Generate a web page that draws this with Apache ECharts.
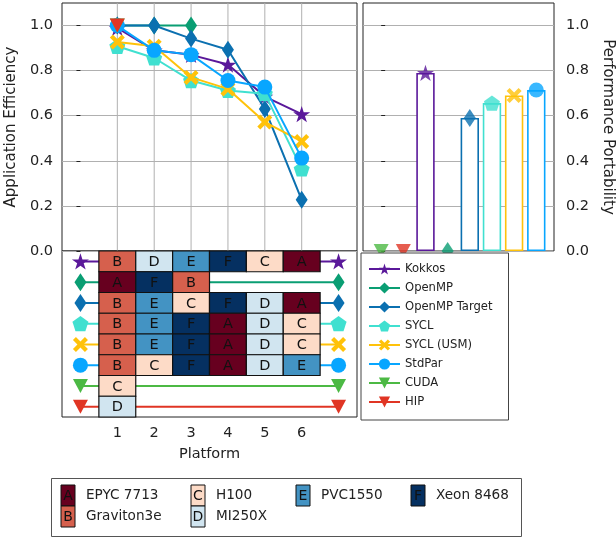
<!DOCTYPE html>
<html><head><meta charset="utf-8">
<script src="https://cdn.jsdelivr.net/npm/echarts@6/dist/echarts.min.js"></script>
<style>html,body{margin:0;padding:0;background:#fff}#c{width:616px;height:539px}</style>
</head><body><div id="c"></div>
<script>
// ---------- data ----------
var implNames = ['Kokkos','OpenMP','OpenMP Target','SYCL','SYCL (USM)','StdPar','CUDA','HIP'];
var implColors = ['#5a189a','#0a9e73','#0b70b0','#40e0d0','#ffc20a','#08a6ff','#4cb944','#e03524'];
var ranks = [1,2,3,4,5,6];
// application efficiency, sorted by rank (platform position 1..n)
var effKokkos = [0.99,0.89,0.87,0.827,0.685,0.607];
var effOpenMP = [1.0,1.0,1.0];
var effOmpTarget = [1.0,1.0,0.942,0.893,0.63,0.227];
var effSYCL = [0.908,0.856,0.756,0.712,0.698,0.364];
var effSYCLUSM = [0.927,0.908,0.77,0.719,0.572,0.486];
var effStdPar = [1.0,0.89,0.871,0.756,0.727,0.412];
var effCUDA = [1.0];
var effHIP = [1.0];
// platform at each rank
var tabKokkos = ['B','D','E','F','C','A'];
var tabOpenMP = ['A','F','B'];
var tabOmpTarget = ['B','E','C','F','D','A'];
var tabSYCL = ['B','E','F','A','D','C'];
var tabSYCLUSM = ['B','E','F','A','D','C'];
var tabStdPar = ['B','C','F','A','D','E'];
var tabCUDA = ['C'];
var tabHIP = ['D'];
// performance portability
var ppCategories = ['CUDA','HIP','Kokkos','OpenMP','OpenMP Target','SYCL','SYCL (USM)','StdPar'];
var ppValues = [0,0,0.79,0,0.59,0.656,0.69,0.714];
// platforms
var platLetters = ['A','B','C','D','E','F'];
var platNames = ['EPYC 7713','Graviton3e','H100','MI250X','PVC1550','Xeon 8468'];
var platColors = ['#67001f','#d6604d','#fddbc7','#d1e5f0','#4393c3','#053061'];
var yTicks = [0,0.2,0.4,0.6,0.8,1.0];

// ---------- helpers ----------
var effs = [effKokkos,effOpenMP,effOmpTarget,effSYCL,effSYCLUSM,effStdPar,effCUDA,effHIP];
var tabs = [tabKokkos,tabOpenMP,tabOmpTarget,tabSYCL,tabSYCLUSM,tabStdPar,tabCUDA,tabHIP];
var SYM = {
  star:'path://M0,-10L2.245,-3.09L9.51,-3.09L3.633,1.18L5.878,8.09L0,3.82L-5.878,8.09L-3.633,1.18L-9.51,-3.09L-2.245,-3.09Z',
  dia:'path://M0,-10L6,0L0,10L-6,0Z',
  pent:'path://M0,-10L9.51,-3.09L5.878,8.09L-5.878,8.09L-9.51,-3.09Z',
  x:'path://M-10,-6L-6,-10L0,-4L6,-10L10,-6L4,0L10,6L6,10L0,4L-6,10L-10,6L-4,0Z',
  circ:'circle',
  tri:'path://M-10,-10L10,-10L0,10Z'
};
var implSym = [SYM.star,SYM.dia,SYM.dia,SYM.pent,SYM.x,SYM.circ,SYM.tri,SYM.tri];
var implSize = [17,[12,18],[12,18],16,15,15,[15,14],[15,14]];
var implKeep = [true,false,false,true,true,false,false,false];
var FONT = 'DejaVu Sans';
var series = [];

// vertical grid lines in upper-left panel
series.push({type:'custom', xAxisIndex:0, yAxisIndex:0, z:1, silent:true,
  data: ranks.map(function(r){return [r];}),
  renderItem:function(p,api){
    var a=api.coord([api.value(0),0]), b=api.coord([api.value(0),1.1]);
    return {type:'line', shape:{x1:a[0],y1:a[1],x2:b[0],y2:b[1]}, style:{stroke:'#b0b0b0',lineWidth:1}};
  }});

// efficiency lines
implNames.forEach(function(n,i){
  series.push({type:'line', name:n, xAxisIndex:0, yAxisIndex:0, z:3+i*0.01,
    data: effs[i].map(function(v,k){return [ranks[k],v];}),
    symbol: implSym[i], symbolSize: implSize[i], symbolKeepAspect:implKeep[i], clip:false,
    color: implColors[i], lineStyle:{width:2,color:implColors[i]},
    itemStyle:{color:implColors[i]}, emphasis:{disabled:true}, animation:false});
});

// table row lines
implNames.forEach(function(n,i){
  series.push({type:'line', name:'row '+n, xAxisIndex:1, yAxisIndex:1, z:2,
    data:[[0,i+0.5],[7,i+0.5]],
    symbol: implSym[i], symbolSize: implSize[i], symbolKeepAspect:implKeep[i], clip:false,
    lineStyle:{width:2,color:implColors[i]}, itemStyle:{color:implColors[i]},
    emphasis:{disabled:true}, animation:false});
});

// table cells
var cellData = [];
tabs.forEach(function(t,i){ t.forEach(function(L,k){ cellData.push([ranks[k], i, platLetters.indexOf(L)]); }); });
series.push({type:'custom', name:'cells', xAxisIndex:1, yAxisIndex:1, z:4, silent:true,
  data: cellData,
  renderItem:function(p,api){
    var x=api.value(0), r=api.value(1), li=api.value(2);
    var a=api.coord([x-0.5,r]), b=api.coord([x+0.5,r+1]);
    return {type:'group', children:[
      {type:'rect', shape:{x:a[0],y:a[1],width:b[0]-a[0],height:b[1]-a[1]}, style:{fill:platColors[li],stroke:'#111',lineWidth:1.2}},
      {type:'text', style:{text:platLetters[li], x:(a[0]+b[0])/2, y:(a[1]+b[1])/2+1, align:'center', verticalAlign:'middle', font:'14.5px "'+FONT+'"', fill:'#111'}}
    ]};
  }});

// performance portability bars
var barData = [];
ppValues.forEach(function(v,i){
  var ii = implNames.indexOf(ppCategories[i]);
  if (v>0) barData.push({value:[i,v], itemStyle:{color:'#fff', borderColor:implColors[ii], borderWidth:1.6}});
});
series.push({type:'bar', name:'pp', xAxisIndex:2, yAxisIndex:2, barWidth:18.4, data:barData, z:2, animation:false, emphasis:{disabled:true}});
series.push({type:'scatter', name:'ppm', xAxisIndex:2, yAxisIndex:2, z:3, clip:false, animation:false,
  data: ppValues.map(function(v,i){
    var ii = implNames.indexOf(ppCategories[i]);
    return {value:[i,v], symbol:implSym[ii], symbolSize:implSize[ii], symbolKeepAspect:implKeep[ii], itemStyle:{color:implColors[ii]}};
  })});

// bottom platform legend
var graphics = [{type:'rect', left:51, top:478, shape:{width:470,height:58}, style:{fill:'#fff',stroke:'#555',lineWidth:1}, z:10}];
var colX = [61, 191, 296, 411], rowY = [485, 506];
platLetters.forEach(function(L,i){
  var col = i<4 ? Math.floor(i/2) : i-2;
  var row = i<4 ? i%2 : 0;
  graphics.push({type:'rect', shape:{x:colX[col], y:rowY[row], width:14, height:21}, style:{fill:platColors[i], stroke:'#111', lineWidth:1}, z:11});
  graphics.push({type:'text', x:colX[col]+7, y:rowY[row]+11, style:{text:L, align:'center', verticalAlign:'middle', font:'14px "'+FONT+'"', fill:'#111'}, z:12});
  graphics.push({type:'text', x:colX[col]+25, y:rowY[row]+10.5, style:{text:platNames[i], align:'left', verticalAlign:'middle', font:'13.6px "'+FONT+'"', fill:'#222'}, z:12});
});

var axisCommon = {axisLine:{show:false}, splitLine:{show:false}, axisTick:{show:false}, axisLabel:{show:false}};
var option = {
  animation:false,
  textStyle:{fontFamily:FONT},
  grid:[
    {left:62, top:3, width:295, height:248, show:true, borderColor:'#222', borderWidth:1, backgroundColor:'transparent'},
    {left:62, top:251, width:295, height:166, show:true, borderColor:'#222', borderWidth:1},
    {left:363, top:3, width:198, height:248, show:true, borderColor:'#222', borderWidth:1}
  ],
  xAxis:[
    Object.assign({type:'value', gridIndex:0, min:-0.5, max:7.5}, axisCommon),
    {type:'value', gridIndex:1, min:-0.5, max:7.5, axisLine:{show:false}, splitLine:{show:false},
      axisTick:{show:true, length:4, customValues:ranks, lineStyle:{color:'#222'}},
      axisLabel:{show:true, customValues:ranks, fontSize:14.5, color:'#222', margin:9},
      name:'Platform', nameLocation:'middle', nameGap:30, nameTextStyle:{fontSize:14.5, color:'#222'}},
    Object.assign({type:'value', gridIndex:2, min:-0.82, max:7.8}, axisCommon)
  ],
  yAxis:[
    {type:'value', gridIndex:0, min:0, max:1.1, interval:0.2, axisLine:{show:false},
      splitLine:{show:true, lineStyle:{color:'#b0b0b0', width:1}},
      axisTick:{show:true, length:4, customValues:yTicks, lineStyle:{color:'#222'}},
      axisLabel:{customValues:yTicks, fontSize:14.5, color:'#222', margin:9, formatter:function(v){return v.toFixed(1);}},
      name:'Application Efficiency', nameLocation:'middle', nameGap:43, nameTextStyle:{fontSize:15, color:'#222'}},
    Object.assign({type:'value', gridIndex:1, min:0, max:8, inverse:true}, axisCommon),
    {type:'value', gridIndex:2, position:'right', min:0, max:1.1, interval:0.2, axisLine:{show:false},
      splitLine:{show:true, lineStyle:{color:'#b0b0b0', width:1}},
      axisTick:{show:true, length:4, customValues:yTicks, lineStyle:{color:'#222'}},
      axisLabel:{customValues:yTicks, fontSize:14.5, color:'#222', margin:12, formatter:function(v){return v.toFixed(1);}},
      name:'Performance Portability', nameLocation:'middle', nameGap:46, nameRotate:-90, nameTextStyle:{fontSize:15, color:'#222'}}
  ],
  legend:{data:implNames, orient:'vertical', left:361, top:253, itemWidth:31, itemHeight:14, itemGap:7,
    padding:[10,16,12,7], borderColor:'#444', borderWidth:1, borderRadius:0, backgroundColor:'#fff',
    textStyle:{fontSize:11.6, color:'#222', fontFamily:FONT}, selectedMode:false, z:10},
  graphic:graphics,
  series:series
};
var chart = echarts.init(document.getElementById('c'), null, {renderer:'canvas'});
chart.setOption(option);
</script></body></html>
